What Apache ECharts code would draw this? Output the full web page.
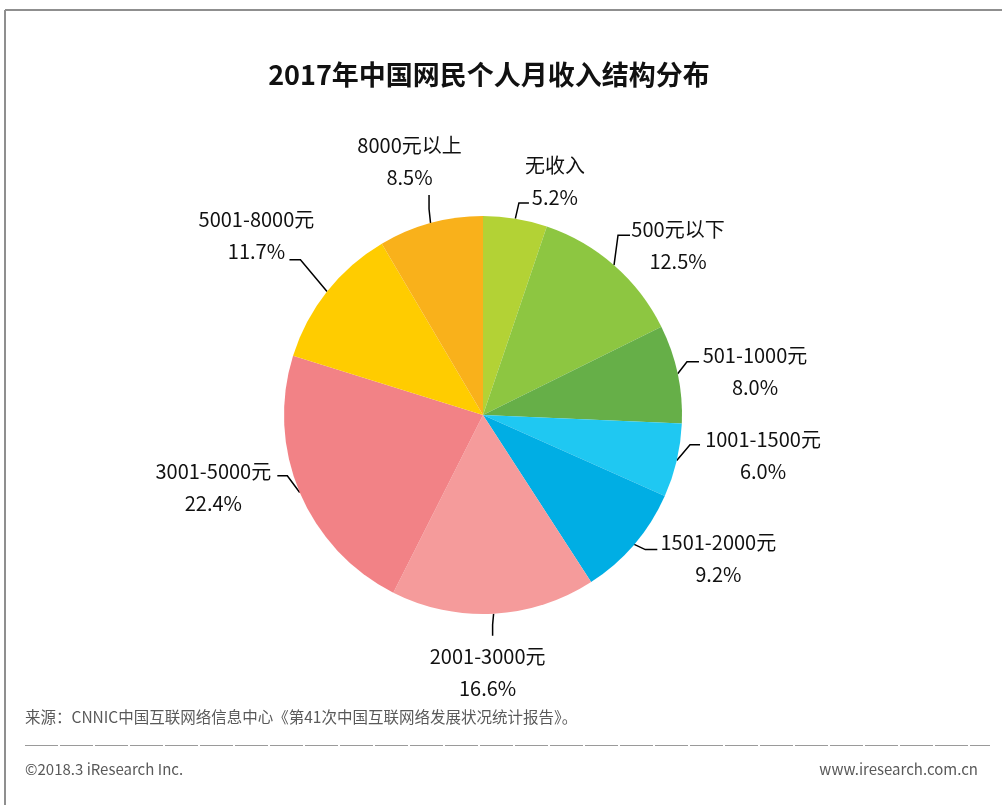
<!DOCTYPE html>
<html>
<head>
<meta charset="utf-8">
<script src="https://cdn.jsdelivr.net/npm/echarts@6/dist/echarts.min.js"></script>
<style>
html,body{margin:0;padding:0;background:#fff;}
#main{width:1002px;height:805px;}
</style>
</head>
<body>
<div id="main"></div>
<script>
// ---- data ----
var categories = ['无收入','500元以下','501-1000元','1001-1500元','1501-2000元','2001-3000元','3001-5000元','5001-8000元','8000元以上'];
var values = [5.2, 12.5, 8.0, 6.0, 9.2, 16.6, 22.4, 11.7, 8.5];
var titleText = '2017年中国网民个人月收入结构分布';
var sourceText = '来源：CNNIC中国互联网络信息中心《第41次中国互联网络发展状况统计报告》。';
var copyrightText = '©2018.3 iResearch Inc.';
var siteText = 'www.iresearch.com.cn';

// ---- styles ----
var colors = ['#B3D235','#8DC641','#66AF48','#1FC8F2','#00AEE4','#F59B9B','#F28286','#FFCC00','#F9B11B'];
// leader-line elbow / end and label-centre offsets, relative to the slice edge point given by the library
var labelOffsets = [
  {e:[3.6,-15.7], t:[13.6,-15.7], c:[39.6,-37.7]},
  {e:[4,-30],     t:[16,-30],     c:[64,-20]},
  {e:[9.3,-12],   t:[21.3,-12],   c:[77.3,-2]},
  {e:[13.3,-15.8],t:[23.3,-15.8], c:[86.3,-5.3]},
  {e:[11.1,5.2],  t:[23.1,5.2],   c:[84.1,14.2]},
  {e:[-1,11],     t:[-1,22],      c:[-6,58.3]},
  {e:[-12.4,-16.8],t:[-22.4,-16.8],c:[-86.4,-5.3]},
  {e:[-26.6,-31.6],t:[-37.6,-31.6],c:[-70.6,-55.6]},
  {e:[-1.5,-14],  t:[-1.5,-28],   c:[-21,-61.3]}
];

var pieData = categories.map(function(n,i){
  return {name:n, value:values[i], itemStyle:{color:colors[i]}};
});

var chart = echarts.init(document.getElementById('main'), null, {renderer:'canvas'});
var FONT = '"Noto Sans CJK SC", "Noto Sans", sans-serif';
chart.setOption({
  backgroundColor:'#fff',
  animation:false,
  title:{
    text:titleText,
    left:484, top:56, textAlign:'center',
    textStyle:{fontSize:27, fontWeight:'bold', color:'#111', fontFamily:FONT}
  },
  graphic:[
    {type:'line', shape:{x1:5, y1:10, x2:1002, y2:10}, style:{stroke:'#8f8f8f', lineWidth:2}},
    {type:'line', shape:{x1:5, y1:10, x2:5, y2:805}, style:{stroke:'#8f8f8f', lineWidth:2}},
    {type:'text', left:25, top:709, style:{text:sourceText, fontSize:15.5, fill:'#595959', fontFamily:FONT}},
    {type:'line', shape:{x1:25, y1:745.5, x2:990, y2:745.5}, style:{stroke:'#9a9a9a', lineWidth:1, lineDash:[33,2]}},
    {type:'text', left:25, top:762, style:{text:copyrightText, fontSize:15, fill:'#595959', fontFamily:FONT}},
    {type:'text', right:24, top:762, style:{text:siteText, fontSize:15, fill:'#595959', fontFamily:FONT}}
  ],
  series:[{
    type:'pie',
    center:[483,415],
    radius:[0,199],
    startAngle:90,
    clockwise:true,
    avoidLabelOverlap:false,
    data:pieData,
    label:{
      show:true,
      position:'outside',
      formatter:function(p){ return p.name + '\n' + p.value.toFixed(1) + '%'; },
      fontSize:20,
      lineHeight:32,
      color:'#111',
      fontFamily:FONT,
      align:'center'
    },
    labelLine:{show:true, length:15, length2:10, lineStyle:{color:'#000', width:1.5}},
    labelLayout:function(params){
      var o = labelOffsets[params.dataIndex];
      var p0 = params.labelLinePoints[0];
      return {
        x:p0[0]+o.c[0], y:p0[1]+o.c[1],
        align:'center', verticalAlign:'middle',
        labelLinePoints:[p0, [p0[0]+o.e[0], p0[1]+o.e[1]], [p0[0]+o.t[0], p0[1]+o.t[1]]]
      };
    }
  }]
});
</script>
</body>
</html>
